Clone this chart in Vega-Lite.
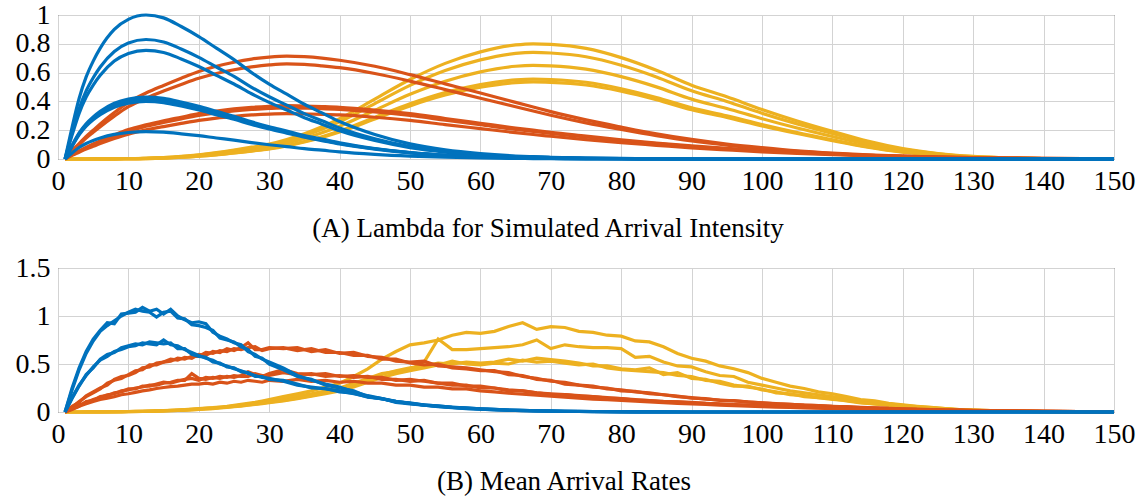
{
"$schema": "https://vega.github.io/schema/vega-lite/v6.json",
"background": "white",
"padding": {"left": 14, "top": 0, "right": 5, "bottom": 2},
"spacing": 109,
"bounds": "flush",
"config": {
  "font": "Liberation Serif",
  "view": {"stroke": "#262626", "strokeWidth": 1},
  "axis": {"grid": true, "gridColor": "#d3d3d3", "gridWidth": 1, "labelFont": "Liberation Serif", "labelFontSize": 28, "labelColor": "black", "domain": false, "ticks": false, "title": null, "labelPadding": 8, "labelFlush": false, "labelOverlap": false, "format": "~r"},
  "title": {"font": "Liberation Serif", "fontWeight": "normal", "color": "black", "fontSize": 27}
},
"datasets": {
"a": [
{"x":1,"b1":0,"b2":0,"b3":0,"b4":0,"b5":0,"b6":0,"b7":0,"o1":0,"o2":0,"o3":0,"o4":0,"o5":0,"y1":0,"y2":0,"y3":0,"y4":0,"y5":0},
{"x":2,"b1":0.22,"b2":0.183,"b3":0.166,"b4":0.095,"b5":0.091,"b6":0.088,"b7":0.042,"o1":0.057,"o2":0.053,"o3":0.03,"o4":0.028,"o5":0.025,"y1":0,"y2":0,"y3":0,"y4":0,"y5":0},
{"x":3,"b1":0.42,"b2":0.349,"b3":0.317,"b4":0.181,"b5":0.174,"b6":0.168,"b7":0.08,"o1":0.107,"o2":0.099,"o3":0.056,"o4":0.053,"o5":0.047,"y1":0,"y2":0,"y3":0,"y4":0,"y5":0},
{"x":4,"b1":0.57,"b2":0.473,"b3":0.43,"b4":0.245,"b5":0.237,"b6":0.228,"b7":0.108,"o1":0.157,"o2":0.145,"o3":0.081,"o4":0.078,"o5":0.069,"y1":0,"y2":0,"y3":0,"y4":0,"y5":0},
{"x":5,"b1":0.68,"b2":0.564,"b3":0.513,"b4":0.292,"b5":0.282,"b6":0.272,"b7":0.129,"o1":0.2,"o2":0.185,"o3":0.104,"o4":0.099,"o5":0.088,"y1":0.001,"y2":0.001,"y3":0.001,"y4":0,"y5":0},
{"x":6,"b1":0.77,"b2":0.639,"b3":0.581,"b4":0.331,"b5":0.32,"b6":0.308,"b7":0.146,"o1":0.243,"o2":0.224,"o3":0.126,"o4":0.121,"o5":0.107,"y1":0.001,"y2":0.001,"y3":0.001,"y4":0.001,"y5":0.001},
{"x":8,"b1":0.9,"b2":0.747,"b3":0.68,"b4":0.387,"b5":0.374,"b6":0.36,"b7":0.171,"o1":0.322,"o2":0.297,"o3":0.167,"o4":0.16,"o5":0.142,"y1":0.002,"y2":0.001,"y3":0.001,"y4":0.001,"y5":0.001},
{"x":10,"b1":0.97,"b2":0.805,"b3":0.732,"b4":0.417,"b5":0.403,"b6":0.388,"b7":0.184,"o1":0.393,"o2":0.363,"o3":0.204,"o4":0.195,"o5":0.173,"y1":0.002,"y2":0.002,"y3":0.002,"y4":0.002,"y5":0.002},
{"x":12.5,"b1":1,"b2":0.83,"b3":0.755,"b4":0.43,"b5":0.415,"b6":0.4,"b7":0.19,"o1":0.458,"o2":0.422,"o3":0.237,"o4":0.227,"o5":0.202,"y1":0.005,"y2":0.004,"y3":0.004,"y4":0.003,"y5":0.003},
{"x":15,"b1":0.98,"b2":0.813,"b3":0.74,"b4":0.421,"b5":0.407,"b6":0.392,"b7":0.186,"o1":0.511,"o2":0.472,"o3":0.265,"o4":0.254,"o5":0.225,"y1":0.01,"y2":0.009,"y3":0.008,"y4":0.007,"y5":0.006},
{"x":17.5,"b1":0.92,"b2":0.764,"b3":0.695,"b4":0.396,"b5":0.382,"b6":0.368,"b7":0.175,"o1":0.561,"o2":0.518,"o3":0.29,"o4":0.279,"o5":0.247,"y1":0.018,"y2":0.016,"y3":0.014,"y4":0.012,"y5":0.012},
{"x":20,"b1":0.85,"b2":0.706,"b3":0.642,"b4":0.366,"b5":0.353,"b6":0.34,"b7":0.162,"o1":0.608,"o2":0.561,"o3":0.315,"o4":0.302,"o5":0.268,"y1":0.029,"y2":0.027,"y3":0.023,"y4":0.02,"y5":0.019},
{"x":22.5,"b1":0.77,"b2":0.639,"b3":0.581,"b4":0.331,"b5":0.32,"b6":0.308,"b7":0.146,"o1":0.644,"o2":0.594,"o3":0.333,"o4":0.32,"o5":0.284,"y1":0.044,"y2":0.041,"y3":0.036,"y4":0.031,"y5":0.029},
{"x":25,"b1":0.69,"b2":0.573,"b3":0.521,"b4":0.297,"b5":0.286,"b6":0.276,"b7":0.131,"o1":0.672,"o2":0.62,"o3":0.348,"o4":0.334,"o5":0.296,"y1":0.062,"y2":0.058,"y3":0.051,"y4":0.043,"y5":0.042},
{"x":27.5,"b1":0.6,"b2":0.498,"b3":0.453,"b4":0.258,"b5":0.249,"b6":0.24,"b7":0.114,"o1":0.694,"o2":0.64,"o3":0.359,"o4":0.344,"o5":0.306,"y1":0.082,"y2":0.076,"y3":0.067,"y4":0.057,"y5":0.055},
{"x":30,"b1":0.52,"b2":0.432,"b3":0.393,"b4":0.224,"b5":0.216,"b6":0.208,"b7":0.099,"o1":0.708,"o2":0.653,"o3":0.366,"o4":0.351,"o5":0.312,"y1":0.104,"y2":0.096,"y3":0.085,"y4":0.072,"y5":0.07},
{"x":32.5,"b1":0.45,"b2":0.374,"b3":0.34,"b4":0.194,"b5":0.187,"b6":0.18,"b7":0.086,"o1":0.715,"o2":0.66,"o3":0.37,"o4":0.355,"o5":0.315,"y1":0.136,"y2":0.126,"y3":0.111,"y4":0.094,"y5":0.091},
{"x":35,"b1":0.38,"b2":0.315,"b3":0.287,"b4":0.163,"b5":0.158,"b6":0.152,"b7":0.072,"o1":0.711,"o2":0.657,"o3":0.368,"o4":0.353,"o5":0.313,"y1":0.176,"y2":0.163,"y3":0.143,"y4":0.122,"y5":0.118},
{"x":37.5,"b1":0.32,"b2":0.266,"b3":0.242,"b4":0.138,"b5":0.133,"b6":0.128,"b7":0.061,"o1":0.701,"o2":0.647,"o3":0.364,"o4":0.35,"o5":0.31,"y1":0.224,"y2":0.207,"y3":0.182,"y4":0.155,"y5":0.15},
{"x":40,"b1":0.26,"b2":0.216,"b3":0.196,"b4":0.112,"b5":0.108,"b6":0.104,"b7":0.049,"o1":0.686,"o2":0.634,"o3":0.359,"o4":0.344,"o5":0.306,"y1":0.28,"y2":0.259,"y3":0.228,"y4":0.194,"y5":0.187},
{"x":45,"b1":0.17,"b2":0.141,"b3":0.128,"b4":0.073,"b5":0.071,"b6":0.068,"b7":0.032,"o1":0.644,"o2":0.594,"o3":0.34,"o4":0.327,"o5":0.29,"y1":0.416,"y2":0.385,"y3":0.338,"y4":0.289,"y5":0.278},
{"x":50,"b1":0.105,"b2":0.087,"b3":0.079,"b4":0.045,"b5":0.044,"b6":0.042,"b7":0.02,"o1":0.586,"o2":0.541,"o3":0.315,"o4":0.302,"o5":0.268,"y1":0.552,"y2":0.511,"y3":0.449,"y4":0.383,"y5":0.369},
{"x":55,"b1":0.063,"b2":0.052,"b3":0.048,"b4":0.027,"b5":0.026,"b6":0.025,"b7":0.012,"o1":0.522,"o2":0.482,"o3":0.281,"o4":0.27,"o5":0.239,"y1":0.664,"y2":0.614,"y3":0.54,"y4":0.461,"y5":0.444},
{"x":60,"b1":0.037,"b2":0.031,"b3":0.028,"b4":0.016,"b5":0.015,"b6":0.015,"b7":0.007,"o1":0.458,"o2":0.422,"o3":0.248,"o4":0.238,"o5":0.211,"y1":0.744,"y2":0.688,"y3":0.605,"y4":0.516,"y5":0.498},
{"x":65,"b1":0.021,"b2":0.017,"b3":0.016,"b4":0.009,"b5":0.009,"b6":0.008,"b7":0.004,"o1":0.393,"o2":0.363,"o3":0.215,"o4":0.206,"o5":0.183,"y1":0.792,"y2":0.733,"y3":0.644,"y4":0.549,"y5":0.53},
{"x":67.5,"b1":0.016,"b2":0.013,"b3":0.012,"b4":0.007,"b5":0.007,"b6":0.006,"b7":0.003,"o1":0.361,"o2":0.333,"o3":0.2,"o4":0.192,"o5":0.17,"y1":0.8,"y2":0.74,"y3":0.65,"y4":0.555,"y5":0.535},
{"x":70,"b1":0.012,"b2":0.01,"b3":0.009,"b4":0.005,"b5":0.005,"b6":0.005,"b7":0.002,"o1":0.329,"o2":0.304,"o3":0.185,"o4":0.178,"o5":0.158,"y1":0.796,"y2":0.736,"y3":0.647,"y4":0.552,"y5":0.532},
{"x":75,"b1":0.007,"b2":0.006,"b3":0.005,"b4":0.003,"b5":0.003,"b6":0.003,"b7":0.001,"o1":0.272,"o2":0.251,"o3":0.159,"o4":0.153,"o5":0.135,"y1":0.768,"y2":0.71,"y3":0.624,"y4":0.533,"y5":0.514},
{"x":80,"b1":0.004,"b2":0.003,"b3":0.003,"b4":0.002,"b5":0.002,"b6":0.002,"b7":0.001,"o1":0.222,"o2":0.205,"o3":0.133,"o4":0.128,"o5":0.113,"y1":0.704,"y2":0.651,"y3":0.572,"y4":0.488,"y5":0.471},
{"x":85,"b1":0.002,"b2":0.002,"b3":0.002,"b4":0.001,"b5":0.001,"b6":0.001,"b7":0.001,"o1":0.175,"o2":0.162,"o3":0.111,"o4":0.107,"o5":0.095,"y1":0.616,"y2":0.57,"y3":0.501,"y4":0.427,"y5":0.412},
{"x":90,"b1":0.001,"b2":0.001,"b3":0.001,"b4":0,"b5":0,"b6":0,"b7":0,"o1":0.136,"o2":0.125,"o3":0.091,"o4":0.087,"o5":0.077,"y1":0.512,"y2":0.474,"y3":0.416,"y4":0.355,"y5":0.342},
{"x":95,"b1":0,"b2":0,"b3":0,"b4":0,"b5":0,"b6":0,"b7":0,"o1":0.104,"o2":0.096,"o3":0.074,"o4":0.071,"o5":0.063,"y1":0.432,"y2":0.4,"y3":0.351,"y4":0.3,"y5":0.289},
{"x":100,"b1":0,"b2":0,"b3":0,"b4":0,"b5":0,"b6":0,"b7":0,"o1":0.079,"o2":0.073,"o3":0.059,"o4":0.057,"o5":0.05,"y1":0.344,"y2":0.318,"y3":0.28,"y4":0.239,"y5":0.23},
{"x":105,"b1":0,"b2":0,"b3":0,"b4":0,"b5":0,"b6":0,"b7":0,"o1":0.057,"o2":0.053,"o3":0.046,"o4":0.044,"o5":0.039,"y1":0.264,"y2":0.244,"y3":0.215,"y4":0.183,"y5":0.177},
{"x":110,"b1":0,"b2":0,"b3":0,"b4":0,"b5":0,"b6":0,"b7":0,"o1":0.041,"o2":0.038,"o3":0.035,"o4":0.034,"o5":0.03,"y1":0.192,"y2":0.178,"y3":0.156,"y4":0.133,"y5":0.128},
{"x":115,"b1":0,"b2":0,"b3":0,"b4":0,"b5":0,"b6":0,"b7":0,"o1":0.029,"o2":0.026,"o3":0.026,"o4":0.025,"o5":0.022,"y1":0.124,"y2":0.115,"y3":0.101,"y4":0.086,"y5":0.083},
{"x":120,"b1":0,"b2":0,"b3":0,"b4":0,"b5":0,"b6":0,"b7":0,"o1":0.02,"o2":0.018,"o3":0.019,"o4":0.018,"o5":0.016,"y1":0.072,"y2":0.067,"y3":0.059,"y4":0.05,"y5":0.048},
{"x":125,"b1":0,"b2":0,"b3":0,"b4":0,"b5":0,"b6":0,"b7":0,"o1":0.013,"o2":0.012,"o3":0.013,"o4":0.012,"o5":0.011,"y1":0.038,"y2":0.036,"y3":0.031,"y4":0.027,"y5":0.026},
{"x":130,"b1":0,"b2":0,"b3":0,"b4":0,"b5":0,"b6":0,"b7":0,"o1":0.009,"o2":0.008,"o3":0.009,"o4":0.009,"o5":0.008,"y1":0.018,"y2":0.016,"y3":0.014,"y4":0.012,"y5":0.012},
{"x":135,"b1":0,"b2":0,"b3":0,"b4":0,"b5":0,"b6":0,"b7":0,"o1":0.005,"o2":0.005,"o3":0.006,"o4":0.006,"o5":0.005,"y1":0.007,"y2":0.007,"y3":0.006,"y4":0.005,"y5":0.005},
{"x":140,"b1":0,"b2":0,"b3":0,"b4":0,"b5":0,"b6":0,"b7":0,"o1":0.003,"o2":0.003,"o3":0.004,"o4":0.004,"o5":0.003,"y1":0.002,"y2":0.002,"y3":0.002,"y4":0.002,"y5":0.002},
{"x":150,"b1":0,"b2":0,"b3":0,"b4":0,"b5":0,"b6":0,"b7":0,"o1":0.001,"o2":0.001,"o3":0.001,"o4":0.001,"o5":0.001,"y1":0,"y2":0,"y3":0,"y4":0,"y5":0}
],
"b": [
{"x":1,"bb1":0,"bb2":0,"bm1":0,"bm2":0,"ot1":0,"ot2":0,"om1":0,"om2":0,"ol1":0,"yt":0,"y2":0,"y3":0,"y4":0},
{"x":2,"bb1":0.25,"bb2":0.23,"bm1":0.15,"bm2":0.14,"ot1":0.05,"ot2":0.06,"om1":0.03,"om2":0.035,"ol1":0.025,"yt":0,"y2":0,"y3":0,"y4":0},
{"x":3,"bb1":0.46,"bb2":0.44,"bm1":0.28,"bm2":0.27,"ot1":0.11,"ot2":0.1,"om1":0.07,"om2":0.06,"ol1":0.06,"yt":0,"y2":0,"y3":0,"y4":0},
{"x":4,"bb1":0.63,"bb2":0.61,"bm1":0.38,"bm2":0.39,"ot1":0.16,"ot2":0.17,"om1":0.1,"om2":0.11,"ol1":0.085,"yt":0.001,"y2":0.001,"y3":0.001,"y4":0},
{"x":5,"bb1":0.76,"bb2":0.74,"bm1":0.47,"bm2":0.46,"ot1":0.2,"ot2":0.21,"om1":0.13,"om2":0.12,"ol1":0.11,"yt":0.002,"y2":0.001,"y3":0.001,"y4":0.001},
{"x":6,"bb1":0.85,"bb2":0.84,"bm1":0.54,"bm2":0.55,"ot1":0.24,"ot2":0.25,"om1":0.15,"om2":0.16,"ol1":0.13,"yt":0.002,"y2":0.002,"y3":0.001,"y4":0.001},
{"x":7,"bb1":0.93,"bb2":0.9,"bm1":0.58,"bm2":0.6,"ot1":0.3,"ot2":0.28,"om1":0.18,"om2":0.17,"ol1":0.145,"yt":0.003,"y2":0.002,"y3":0.002,"y4":0.001},
{"x":8,"bb1":0.92,"bb2":0.95,"bm1":0.63,"bm2":0.62,"ot1":0.33,"ot2":0.34,"om1":0.19,"om2":0.2,"ol1":0.16,"yt":0.004,"y2":0.003,"y3":0.002,"y4":0.002},
{"x":9,"bb1":1.02,"bb2":1.0,"bm1":0.65,"bm2":0.67,"ot1":0.35,"ot2":0.37,"om1":0.22,"om2":0.21,"ol1":0.18,"yt":0.004,"y2":0.004,"y3":0.003,"y4":0.002},
{"x":10,"bb1":1.03,"bb2":1.04,"bm1":0.68,"bm2":0.69,"ot1":0.39,"ot2":0.38,"om1":0.23,"om2":0.24,"ol1":0.19,"yt":0.005,"y2":0.005,"y3":0.004,"y4":0.003},
{"x":11,"bb1":1.04,"bb2":1.07,"bm1":0.69,"bm2":0.71,"ot1":0.43,"ot2":0.41,"om1":0.25,"om2":0.24,"ol1":0.205,"yt":0.006,"y2":0.006,"y3":0.005,"y4":0.004},
{"x":12,"bb1":1.09,"bb2":1.05,"bm1":0.72,"bm2":0.7,"ot1":0.44,"ot2":0.46,"om1":0.26,"om2":0.27,"ol1":0.22,"yt":0.008,"y2":0.007,"y3":0.006,"y4":0.005},
{"x":13,"bb1":1.05,"bb2":1.04,"bm1":0.71,"bm2":0.73,"ot1":0.49,"ot2":0.47,"om1":0.28,"om2":0.27,"ol1":0.23,"yt":0.01,"y2":0.009,"y3":0.008,"y4":0.007},
{"x":14,"bb1":1.07,"bb2":0.99,"bm1":0.7,"bm2":0.72,"ot1":0.49,"ot2":0.51,"om1":0.28,"om2":0.29,"ol1":0.245,"yt":0.012,"y2":0.011,"y3":0.01,"y4":0.009},
{"x":15,"bb1":1.02,"bb2":1.04,"bm1":0.75,"bm2":0.71,"ot1":0.52,"ot2":0.52,"om1":0.3,"om2":0.31,"ol1":0.255,"yt":0.015,"y2":0.013,"y3":0.012,"y4":0.011},
{"x":16,"bb1":1.07,"bb2":1.05,"bm1":0.7,"bm2":0.72,"ot1":0.55,"ot2":0.53,"om1":0.31,"om2":0.3,"ol1":0.265,"yt":0.018,"y2":0.016,"y3":0.014,"y4":0.013},
{"x":17,"bb1":1.0,"bb2":0.98,"bm1":0.69,"bm2":0.66,"ot1":0.54,"ot2":0.56,"om1":0.33,"om2":0.32,"ol1":0.27,"yt":0.021,"y2":0.019,"y3":0.017,"y4":0.016},
{"x":18,"bb1":0.96,"bb2":0.97,"bm1":0.65,"bm2":0.66,"ot1":0.57,"ot2":0.55,"om1":0.33,"om2":0.34,"ol1":0.28,"yt":0.025,"y2":0.023,"y3":0.02,"y4":0.019},
{"x":19,"bb1":0.93,"bb2":0.91,"bm1":0.62,"bm2":0.6,"ot1":0.56,"ot2":0.58,"om1":0.4,"om2":0.35,"ol1":0.29,"yt":0.03,"y2":0.027,"y3":0.024,"y4":0.023},
{"x":20,"bb1":0.94,"bb2":0.9,"bm1":0.59,"bm2":0.58,"ot1":0.6,"ot2":0.58,"om1":0.35,"om2":0.33,"ol1":0.29,"yt":0.035,"y2":0.032,"y3":0.028,"y4":0.027},
{"x":21,"bb1":0.92,"bb2":0.88,"bm1":0.56,"bm2":0.57,"ot1":0.59,"ot2":0.62,"om1":0.34,"om2":0.36,"ol1":0.3,"yt":0.04,"y2":0.037,"y3":0.033,"y4":0.031},
{"x":22,"bb1":0.83,"bb2":0.85,"bm1":0.54,"bm2":0.52,"ot1":0.63,"ot2":0.61,"om1":0.36,"om2":0.35,"ol1":0.29,"yt":0.045,"y2":0.042,"y3":0.038,"y4":0.036},
{"x":23,"bb1":0.79,"bb2":0.77,"bm1":0.5,"bm2":0.51,"ot1":0.62,"ot2":0.64,"om1":0.35,"om2":0.37,"ol1":0.31,"yt":0.052,"y2":0.048,"y3":0.044,"y4":0.042},
{"x":24,"bb1":0.76,"bb2":0.75,"bm1":0.48,"bm2":0.47,"ot1":0.66,"ot2":0.63,"om1":0.37,"om2":0.36,"ol1":0.3,"yt":0.06,"y2":0.055,"y3":0.05,"y4":0.048},
{"x":25,"bb1":0.72,"bb2":0.73,"bm1":0.45,"bm2":0.46,"ot1":0.64,"ot2":0.66,"om1":0.36,"om2":0.38,"ol1":0.32,"yt":0.07,"y2":0.063,"y3":0.057,"y4":0.055},
{"x":26,"bb1":0.7,"bb2":0.68,"bm1":0.43,"bm2":0.42,"ot1":0.67,"ot2":0.65,"om1":0.38,"om2":0.37,"ol1":0.31,"yt":0.08,"y2":0.072,"y3":0.065,"y4":0.062},
{"x":27,"bb1":0.63,"bb2":0.65,"bm1":0.4,"bm2":0.41,"ot1":0.72,"ot2":0.67,"om1":0.42,"om2":0.37,"ol1":0.33,"yt":0.09,"y2":0.082,"y3":0.073,"y4":0.07},
{"x":28,"bb1":0.6,"bb2":0.58,"bm1":0.38,"bm2":0.37,"ot1":0.65,"ot2":0.68,"om1":0.39,"om2":0.4,"ol1":0.32,"yt":0.1,"y2":0.093,"y3":0.082,"y4":0.079},
{"x":29,"bb1":0.55,"bb2":0.56,"bm1":0.36,"bm2":0.37,"ot1":0.65,"ot2":0.64,"om1":0.37,"om2":0.38,"ol1":0.31,"yt":0.115,"y2":0.105,"y3":0.092,"y4":0.088},
{"x":30,"bb1":0.52,"bb2":0.5,"bm1":0.35,"bm2":0.34,"ot1":0.67,"ot2":0.66,"om1":0.4,"om2":0.38,"ol1":0.33,"yt":0.13,"y2":0.118,"y3":0.102,"y4":0.098},
{"x":32,"bb1":0.46,"bb2":0.44,"bm1":0.32,"bm2":0.33,"ot1":0.66,"ot2":0.67,"om1":0.44,"om2":0.41,"ol1":0.32,"yt":0.16,"y2":0.14,"y3":0.12,"y4":0.115},
{"x":34,"bb1":0.38,"bb2":0.37,"bm1":0.28,"bm2":0.29,"ot1":0.67,"ot2":0.64,"om1":0.4,"om2":0.39,"ol1":0.34,"yt":0.19,"y2":0.165,"y3":0.145,"y4":0.14},
{"x":36,"bb1":0.33,"bb2":0.34,"bm1":0.26,"bm2":0.25,"ot1":0.63,"ot2":0.66,"om1":0.39,"om2":0.4,"ol1":0.32,"yt":0.22,"y2":0.19,"y3":0.17,"y4":0.165},
{"x":38,"bb1":0.29,"bb2":0.28,"bm1":0.24,"bm2":0.245,"ot1":0.65,"ot2":0.62,"om1":0.4,"om2":0.37,"ol1":0.33,"yt":0.26,"y2":0.22,"y3":0.2,"y4":0.19},
{"x":40,"bb1":0.26,"bb2":0.25,"bm1":0.22,"bm2":0.21,"ot1":0.61,"ot2":0.62,"om1":0.37,"om2":0.38,"ol1":0.31,"yt":0.3,"y2":0.25,"y3":0.23,"y4":0.22},
{"x":42,"bb1":0.21,"bb2":0.22,"bm1":0.19,"bm2":0.195,"ot1":0.62,"ot2":0.59,"om1":0.38,"om2":0.36,"ol1":0.32,"yt":0.37,"y2":0.3,"y3":0.28,"y4":0.26},
{"x":44,"bb1":0.17,"bb2":0.16,"bm1":0.16,"bm2":0.155,"ot1":0.58,"ot2":0.59,"om1":0.36,"om2":0.37,"ol1":0.3,"yt":0.45,"y2":0.35,"y3":0.33,"y4":0.31},
{"x":46,"bb1":0.14,"bb2":0.14,"bm1":0.135,"bm2":0.14,"ot1":0.57,"ot2":0.55,"om1":0.36,"om2":0.34,"ol1":0.3,"yt":0.55,"y2":0.4,"y3":0.39,"y4":0.36},
{"x":48,"bb1":0.11,"bb2":0.1,"bm1":0.11,"bm2":0.105,"ot1":0.53,"ot2":0.55,"om1":0.33,"om2":0.34,"ol1":0.28,"yt":0.63,"y2":0.42,"y3":0.43,"y4":0.4},
{"x":50,"bb1":0.09,"bb2":0.085,"bm1":0.09,"bm2":0.095,"ot1":0.52,"ot2":0.51,"om1":0.34,"om2":0.32,"ol1":0.28,"yt":0.7,"y2":0.44,"y3":0.46,"y4":0.43},
{"x":52,"bb1":0.07,"bb2":0.072,"bm1":0.075,"bm2":0.072,"ot1":0.53,"ot2":0.49,"om1":0.32,"om2":0.33,"ol1":0.26,"yt":0.72,"y2":0.52,"y3":0.48,"y4":0.46},
{"x":54,"bb1":0.058,"bb2":0.055,"bm1":0.062,"bm2":0.064,"ot1":0.48,"ot2":0.5,"om1":0.3,"om2":0.3,"ol1":0.26,"yt":0.75,"y2":0.76,"y3":0.51,"y4":0.49},
{"x":56,"bb1":0.047,"bb2":0.046,"bm1":0.05,"bm2":0.048,"ot1":0.47,"ot2":0.46,"om1":0.3,"om2":0.28,"ol1":0.24,"yt":0.8,"y2":0.65,"y3":0.5,"y4":0.53},
{"x":58,"bb1":0.038,"bb2":0.036,"bm1":0.041,"bm2":0.043,"ot1":0.46,"ot2":0.45,"om1":0.27,"om2":0.28,"ol1":0.24,"yt":0.83,"y2":0.65,"y3":0.52,"y4":0.5},
{"x":60,"bb1":0.03,"bb2":0.029,"bm1":0.034,"bm2":0.032,"ot1":0.44,"ot2":0.43,"om1":0.27,"om2":0.25,"ol1":0.22,"yt":0.82,"y2":0.66,"y3":0.51,"y4":0.49},
{"x":62,"bb1":0.024,"bb2":0.023,"bm1":0.027,"bm2":0.028,"ot1":0.42,"ot2":0.43,"om1":0.25,"om2":0.25,"ol1":0.21,"yt":0.84,"y2":0.67,"y3":0.52,"y4":0.51},
{"x":64,"bb1":0.019,"bb2":0.018,"bm1":0.021,"bm2":0.02,"ot1":0.41,"ot2":0.39,"om1":0.23,"om2":0.22,"ol1":0.195,"yt":0.89,"y2":0.68,"y3":0.55,"y4":0.5},
{"x":66,"bb1":0.015,"bb2":0.014,"bm1":0.017,"bm2":0.018,"ot1":0.37,"ot2":0.38,"om1":0.22,"om2":0.22,"ol1":0.185,"yt":0.93,"y2":0.7,"y3":0.53,"y4":0.54},
{"x":68,"bb1":0.012,"bb2":0.011,"bm1":0.013,"bm2":0.012,"ot1":0.35,"ot2":0.34,"om1":0.2,"om2":0.2,"ol1":0.175,"yt":0.86,"y2":0.75,"y3":0.56,"y4":0.52},
{"x":70,"bb1":0.009,"bb2":0.008,"bm1":0.01,"bm2":0.011,"ot1":0.32,"ot2":0.33,"om1":0.19,"om2":0.185,"ol1":0.165,"yt":0.89,"y2":0.66,"y3":0.545,"y4":0.53},
{"x":72,"bb1":0.007,"bb2":0.006,"bm1":0.008,"bm2":0.008,"ot1":0.31,"ot2":0.29,"om1":0.18,"om2":0.18,"ol1":0.155,"yt":0.88,"y2":0.7,"y3":0.53,"y4":0.51},
{"x":74,"bb1":0.005,"bb2":0.005,"bm1":0.006,"bm2":0.006,"ot1":0.28,"ot2":0.28,"om1":0.17,"om2":0.165,"ol1":0.145,"yt":0.84,"y2":0.68,"y3":0.51,"y4":0.49},
{"x":76,"bb1":0.004,"bb2":0.004,"bm1":0.005,"bm2":0.005,"ot1":0.27,"ot2":0.26,"om1":0.16,"om2":0.16,"ol1":0.135,"yt":0.83,"y2":0.67,"y3":0.48,"y4":0.5},
{"x":78,"bb1":0.003,"bb2":0.003,"bm1":0.004,"bm2":0.004,"ot1":0.24,"ot2":0.25,"om1":0.15,"om2":0.145,"ol1":0.128,"yt":0.8,"y2":0.67,"y3":0.48,"y4":0.46},
{"x":80,"bb1":0.002,"bb2":0.002,"bm1":0.003,"bm2":0.003,"ot1":0.23,"ot2":0.22,"om1":0.14,"om2":0.14,"ol1":0.12,"yt":0.79,"y2":0.66,"y3":0.45,"y4":0.44},
{"x":82,"bb1":0.002,"bb2":0.001,"bm1":0.002,"bm2":0.002,"ot1":0.21,"ot2":0.215,"om1":0.13,"om2":0.125,"ol1":0.112,"yt":0.74,"y2":0.57,"y3":0.44,"y4":0.43},
{"x":84,"bb1":0.001,"bb2":0.001,"bm1":0.002,"bm2":0.001,"ot1":0.2,"ot2":0.19,"om1":0.12,"om2":0.12,"ol1":0.104,"yt":0.73,"y2":0.58,"y3":0.46,"y4":0.42},
{"x":86,"bb1":0.001,"bb2":0,"bm1":0.001,"bm2":0.001,"ot1":0.18,"ot2":0.18,"om1":0.11,"om2":0.105,"ol1":0.097,"yt":0.68,"y2":0.52,"y3":0.39,"y4":0.41},
{"x":88,"bb1":0,"bb2":0,"bm1":0.001,"bm2":0,"ot1":0.16,"ot2":0.165,"om1":0.105,"om2":0.105,"ol1":0.09,"yt":0.61,"y2":0.48,"y3":0.41,"y4":0.38},
{"x":90,"bb1":0,"bb2":0,"bm1":0,"bm2":0,"ot1":0.15,"ot2":0.145,"om1":0.1,"om2":0.095,"ol1":0.085,"yt":0.56,"y2":0.47,"y3":0.35,"y4":0.37},
{"x":92,"bb1":0,"bb2":0,"bm1":0,"bm2":0,"ot1":0.135,"ot2":0.14,"om1":0.09,"om2":0.09,"ol1":0.078,"yt":0.53,"y2":0.42,"y3":0.34,"y4":0.33},
{"x":94,"bb1":0,"bb2":0,"bm1":0,"bm2":0,"ot1":0.125,"ot2":0.122,"om1":0.085,"om2":0.082,"ol1":0.072,"yt":0.48,"y2":0.38,"y3":0.3,"y4":0.32},
{"x":96,"bb1":0,"bb2":0,"bm1":0,"bm2":0,"ot1":0.115,"ot2":0.118,"om1":0.078,"om2":0.078,"ol1":0.066,"yt":0.45,"y2":0.37,"y3":0.27,"y4":0.28},
{"x":98,"bb1":0,"bb2":0,"bm1":0,"bm2":0,"ot1":0.105,"ot2":0.102,"om1":0.072,"om2":0.07,"ol1":0.061,"yt":0.41,"y2":0.31,"y3":0.27,"y4":0.26},
{"x":100,"bb1":0,"bb2":0,"bm1":0,"bm2":0,"ot1":0.095,"ot2":0.096,"om1":0.066,"om2":0.066,"ol1":0.056,"yt":0.35,"y2":0.28,"y3":0.23,"y4":0.24},
{"x":102,"bb1":0,"bb2":0,"bm1":0,"bm2":0,"ot1":0.087,"ot2":0.085,"om1":0.06,"om2":0.058,"ol1":0.051,"yt":0.31,"y2":0.25,"y3":0.21,"y4":0.2},
{"x":104,"bb1":0,"bb2":0,"bm1":0,"bm2":0,"ot1":0.08,"ot2":0.081,"om1":0.055,"om2":0.055,"ol1":0.047,"yt":0.27,"y2":0.22,"y3":0.18,"y4":0.19},
{"x":106,"bb1":0,"bb2":0,"bm1":0,"bm2":0,"ot1":0.073,"ot2":0.072,"om1":0.05,"om2":0.048,"ol1":0.043,"yt":0.245,"y2":0.2,"y3":0.17,"y4":0.16},
{"x":108,"bb1":0,"bb2":0,"bm1":0,"bm2":0,"ot1":0.066,"ot2":0.067,"om1":0.046,"om2":0.046,"ol1":0.039,"yt":0.21,"y2":0.18,"y3":0.15,"y4":0.15},
{"x":110,"bb1":0,"bb2":0,"bm1":0,"bm2":0,"ot1":0.06,"ot2":0.059,"om1":0.042,"om2":0.04,"ol1":0.036,"yt":0.19,"y2":0.16,"y3":0.14,"y4":0.13},
{"x":112,"bb1":0,"bb2":0,"bm1":0,"bm2":0,"ot1":0.054,"ot2":0.055,"om1":0.038,"om2":0.038,"ol1":0.032,"yt":0.16,"y2":0.14,"y3":0.115,"y4":0.12},
{"x":114,"bb1":0,"bb2":0,"bm1":0,"bm2":0,"ot1":0.048,"ot2":0.047,"om1":0.034,"om2":0.033,"ol1":0.029,"yt":0.13,"y2":0.12,"y3":0.094,"y4":0.1},
{"x":116,"bb1":0,"bb2":0,"bm1":0,"bm2":0,"ot1":0.043,"ot2":0.044,"om1":0.031,"om2":0.031,"ol1":0.026,"yt":0.115,"y2":0.1,"y3":0.085,"y4":0.085},
{"x":118,"bb1":0,"bb2":0,"bm1":0,"bm2":0,"ot1":0.038,"ot2":0.037,"om1":0.028,"om2":0.027,"ol1":0.023,"yt":0.09,"y2":0.085,"y3":0.07,"y4":0.07},
{"x":120,"bb1":0,"bb2":0,"bm1":0,"bm2":0,"ot1":0.033,"ot2":0.034,"om1":0.025,"om2":0.025,"ol1":0.021,"yt":0.075,"y2":0.07,"y3":0.06,"y4":0.06},
{"x":122,"bb1":0,"bb2":0,"bm1":0,"bm2":0,"ot1":0.029,"ot2":0.028,"om1":0.022,"om2":0.021,"ol1":0.019,"yt":0.06,"y2":0.057,"y3":0.05,"y4":0.048},
{"x":124,"bb1":0,"bb2":0,"bm1":0,"bm2":0,"ot1":0.025,"ot2":0.026,"om1":0.02,"om2":0.02,"ol1":0.017,"yt":0.048,"y2":0.045,"y3":0.04,"y4":0.04},
{"x":126,"bb1":0,"bb2":0,"bm1":0,"bm2":0,"ot1":0.022,"ot2":0.021,"om1":0.018,"om2":0.017,"ol1":0.015,"yt":0.036,"y2":0.035,"y3":0.031,"y4":0.03},
{"x":128,"bb1":0,"bb2":0,"bm1":0,"bm2":0,"ot1":0.019,"ot2":0.019,"om1":0.016,"om2":0.016,"ol1":0.013,"yt":0.026,"y2":0.026,"y3":0.023,"y4":0.022},
{"x":130,"bb1":0,"bb2":0,"bm1":0,"bm2":0,"ot1":0.016,"ot2":0.015,"om1":0.014,"om2":0.013,"ol1":0.012,"yt":0.02,"y2":0.019,"y3":0.017,"y4":0.016},
{"x":135,"bb1":0,"bb2":0,"bm1":0,"bm2":0,"ot1":0.011,"ot2":0.011,"om1":0.01,"om2":0.01,"ol1":0.009,"yt":0.01,"y2":0.009,"y3":0.008,"y4":0.008},
{"x":140,"bb1":0,"bb2":0,"bm1":0,"bm2":0,"ot1":0.007,"ot2":0.007,"om1":0.007,"om2":0.007,"ol1":0.006,"yt":0.004,"y2":0.004,"y3":0.003,"y4":0.003},
{"x":145,"bb1":0,"bb2":0,"bm1":0,"bm2":0,"ot1":0.004,"ot2":0.004,"om1":0.005,"om2":0.005,"ol1":0.004,"yt":0.001,"y2":0.001,"y3":0.001,"y4":0.001},
{"x":150,"bb1":0,"bb2":0,"bm1":0,"bm2":0,"ot1":0.002,"ot2":0.002,"om1":0.003,"om2":0.003,"ol1":0.002,"yt":0,"y2":0,"y3":0,"y4":0}
]
},
"vconcat": [
{
  "width": 1056, "height": 144,
  "title": {"text": "(A) Lambda for Simulated Arrival Intensity", "orient": "bottom", "anchor": "middle", "offset": 21, "dx": -38},
  "data": {"name": "a"},
  "encoding": {
    "x": {"field": "x", "type": "quantitative", "scale": {"domain": [0, 150], "nice": false}, "axis": {"values": [0,10,20,30,40,50,60,70,80,90,100,110,120,130,140,150]}},
    "y": {"field": "v", "type": "quantitative", "scale": {"domain": [0, 1], "nice": false}, "axis": {"values": [0,0.2,0.4,0.6,0.8,1]}},
    "detail": {"field": "k", "type": "nominal"}
  },
  "layer": [
    {"transform": [{"fold": ["y1","y2","y3","y4","y5"], "as": ["k","v"]}], "mark": {"type": "line", "color": "#EDB120", "strokeWidth": 3.2, "interpolate": "monotone"}},
    {"transform": [{"fold": ["o1","o2","o3","o4","o5"], "as": ["k","v"]}], "mark": {"type": "line", "color": "#D95319", "strokeWidth": 3.2, "interpolate": "monotone"}},
    {"transform": [{"fold": ["b1","b2","b3","b4","b5","b6","b7"], "as": ["k","v"]}], "mark": {"type": "line", "color": "#0072BD", "strokeWidth": 3.2, "interpolate": "monotone"}}
  ]
},
{
  "width": 1056, "height": 144,
  "title": {"text": "(B) Mean Arrival Rates", "orient": "bottom", "anchor": "middle", "offset": 21, "dx": -22},
  "data": {"name": "b"},
  "encoding": {
    "x": {"field": "x", "type": "quantitative", "scale": {"domain": [0, 150], "nice": false}, "axis": {"values": [0,10,20,30,40,50,60,70,80,90,100,110,120,130,140,150]}},
    "y": {"field": "v", "type": "quantitative", "scale": {"domain": [0, 1.5], "nice": false}, "axis": {"values": [0,0.5,1,1.5]}},
    "detail": {"field": "k", "type": "nominal"}
  },
  "layer": [
    {"transform": [{"fold": ["yt","y2","y3","y4"], "as": ["k","v"]}], "mark": {"type": "line", "color": "#EDB120", "strokeWidth": 3.2}},
    {"transform": [{"fold": ["ot1","ot2","om1","om2","ol1"], "as": ["k","v"]}], "mark": {"type": "line", "color": "#D95319", "strokeWidth": 3.2}},
    {"transform": [{"fold": ["bb1","bb2","bm1","bm2"], "as": ["k","v"]}], "mark": {"type": "line", "color": "#0072BD", "strokeWidth": 3.2}}
  ]
}
]
}
